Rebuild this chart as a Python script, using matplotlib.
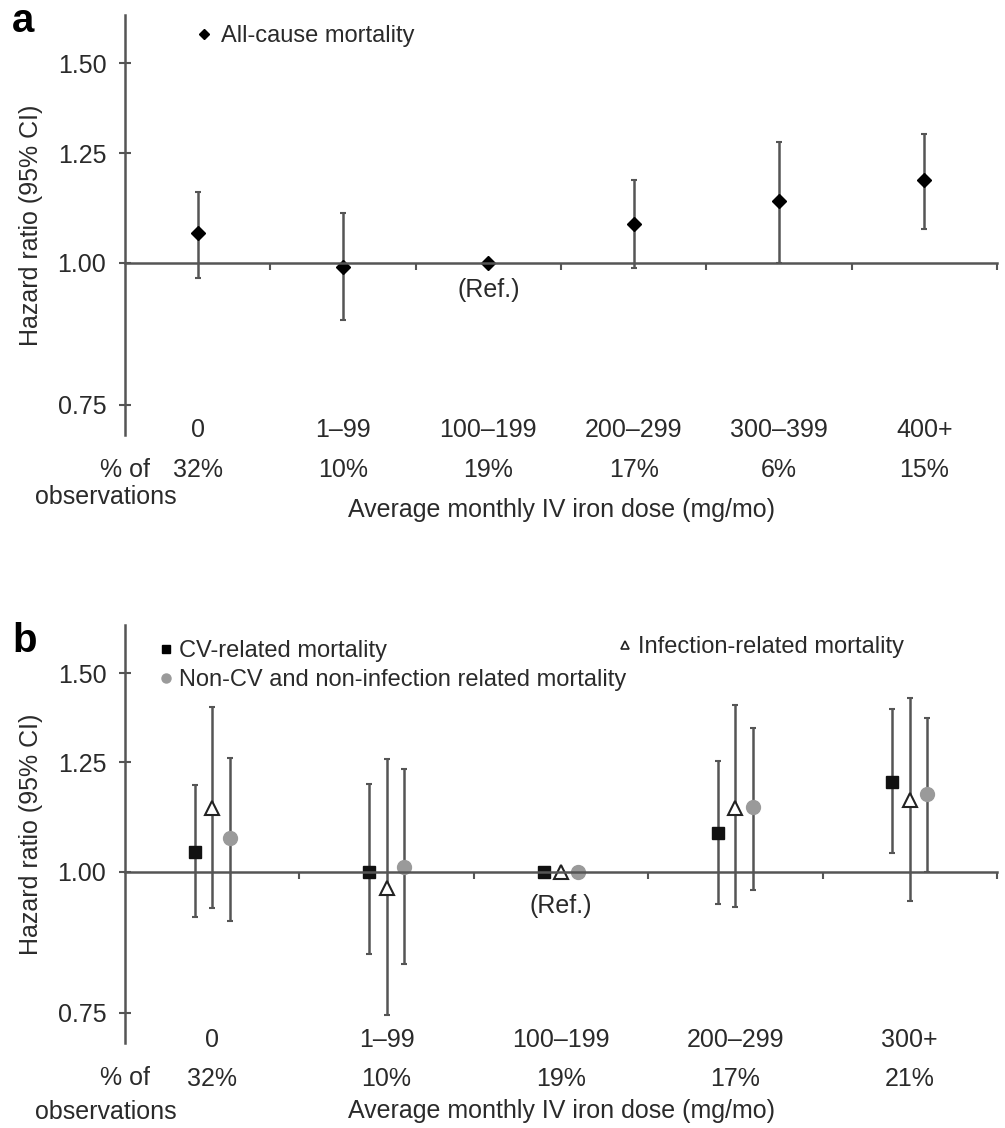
import numpy as np
import matplotlib
matplotlib.use("Agg")
import matplotlib.pyplot as plt
from matplotlib.lines import Line2D
from matplotlib.ticker import FixedLocator, FixedFormatter, NullLocator

plt.rcParams['font.family'] = ['Liberation Sans', 'DejaVu Sans']

# ---- panel a: all-cause mortality ----
doses_a = ["0", "1–99", "100–199", "200–299", "300–399", "400+"]
pct_a = ["32%", "10%", "19%", "17%", "6%", "15%"]
hr_all = [1.063, 0.992, 1.00, 1.082, 1.134, 1.184]
lo_all = [0.970, 0.891, 1.00, 0.990, 1.000, 1.072]
hi_all = [1.155, 1.107, 1.00, 1.184, 1.279, 1.300]

# ---- panel b: cause-specific mortality ----
doses_b = ["0", "1–99", "100–199", "200–299", "300+"]
pct_b = ["32%", "10%", "19%", "17%", "21%"]
hr_cv = [1.041, 1.000, 1.00, 1.082, 1.201]
lo_cv = [0.911, 0.845, 1.00, 0.937, 1.039]
hi_cv = [1.193, 1.196, 1.00, 1.253, 1.393]
hr_inf = [1.139, 0.968, 1.00, 1.139, 1.158]
lo_inf = [0.928, 0.746, 1.00, 0.931, 0.943]
hi_inf = [1.401, 1.258, 1.00, 1.407, 1.427]
hr_oth = [1.072, 1.010, 1.00, 1.141, 1.172]
lo_oth = [0.905, 0.828, 1.00, 0.964, 1.000]
hi_oth = [1.261, 1.233, 1.00, 1.340, 1.370]

W, H = 1005, 1128
AX_COL = "#555555"
TXT_COL = "#2a2a2a"
FS = 18


def px(x, y):
    return x / W, 1 - y / H


def setup_axes(ax, cats, pcts, lab_y, pct_y):
    n = len(cats)
    ax.set_yscale('log')
    ax.set_ylim(0.705, 1.655)
    ax.set_xlim(0, n)
    ax.yaxis.set_major_locator(FixedLocator([0.75, 1.0, 1.25, 1.5]))
    ax.yaxis.set_major_formatter(FixedFormatter(["0.75", "1.00", "1.25", "1.50"]))
    ax.yaxis.set_minor_locator(NullLocator())
    ax.spines[['top', 'right']].set_visible(False)
    ax.spines['bottom'].set_position(('data', 1.0))
    for s in ['left', 'bottom']:
        ax.spines[s].set_color(AX_COL)
        ax.spines[s].set_linewidth(1.8)
    ax.set_xticks(np.arange(1, n + 1))
    ax.set_xticklabels([])
    ax.tick_params(axis='x', direction='out', length=5, width=1.5, color=AX_COL)
    ax.tick_params(axis='y', direction='inout', length=9, width=1.5, color=AX_COL,
                   labelsize=FS, labelcolor=TXT_COL, pad=9)
    tr = ax.get_xaxis_transform()
    for i, (c, p) in enumerate(zip(cats, pcts)):
        ax.text(i + 0.5, lab_y, c, transform=tr, ha='center', va='center',
                fontsize=FS, color=TXT_COL, clip_on=False)
        ax.text(i + 0.5, pct_y, p, transform=tr, ha='center', va='center',
                fontsize=FS, color=TXT_COL, clip_on=False)


def err(hr, lo, hi):
    hr = np.array(hr)
    return [hr - np.array(lo), np.array(hi) - hr]


fig = plt.figure(figsize=(W / 100, H / 100), dpi=100)
ax_a = fig.add_axes([125 / W, 1 - 435 / H, 872 / W, 420 / H])
ax_b = fig.add_axes([125 / W, 1 - 1043 / H, 872 / W, 418 / H])
for ax in (ax_a, ax_b):
    ax.patch.set_alpha(0)

# panel a
setup_axes(ax_a, doses_a, pct_a, 0.012, -0.083)
xa = np.arange(len(doses_a)) + 0.5
ax_a.errorbar(xa, hr_all, yerr=err(hr_all, lo_all, hi_all), fmt='D', ms=7,
              color='black', ecolor=AX_COL, elinewidth=1.8, capsize=2.5, capthick=1.5)
ax_a.text(2.5, 0.946, "(Ref.)", ha='center', va='center', fontsize=FS, color=TXT_COL)
ax_a.legend(handles=[Line2D([], [], ls='none', marker='D', ms=5.5, color='black')],
            labels=["All-cause mortality"], loc='upper left',
            bbox_to_anchor=(0.08, 0.976), frameon=False, borderpad=0, borderaxespad=0,
            handlelength=0.8, handletextpad=0.3, fontsize=17, labelcolor=TXT_COL)

# panel b
setup_axes(ax_b, doses_b, pct_b, 0.007, -0.086)
xb = np.arange(len(doses_b)) + 0.5
off = 0.1
ax_b.errorbar(xb - off, hr_cv, yerr=err(hr_cv, lo_cv, hi_cv), fmt='s', ms=9,
              color='#111111', ecolor=AX_COL, elinewidth=1.8, capsize=2.5, capthick=1.5)
ax_b.errorbar(xb, hr_inf, yerr=err(hr_inf, lo_inf, hi_inf), fmt='^', ms=10,
              mfc='white', mec='#222222', mew=1.5, ecolor=AX_COL, elinewidth=1.8,
              capsize=2.5, capthick=1.5)
ax_b.errorbar(xb + off, hr_oth, yerr=err(hr_oth, lo_oth, hi_oth), fmt='o', ms=10,
              color='#9a9a9a', ecolor=AX_COL, elinewidth=1.8, capsize=2.5, capthick=1.5)
ax_b.text(2.5, 0.933, "(Ref.)", ha='center', va='center', fontsize=FS, color=TXT_COL)

leg1 = ax_b.legend(handles=[Line2D([], [], ls='none', marker='s', ms=6, color='black'),
                            Line2D([], [], ls='none', marker='o', ms=6.5, color='#9a9a9a')],
                   labels=["CV-related mortality", "Non-CV and non-infection related mortality"],
                   loc='upper left', bbox_to_anchor=(0.039, 0.964), frameon=False,
                   borderpad=0, borderaxespad=0, handlelength=0.6, handletextpad=0.25,
                   labelspacing=0.3, fontsize=17, labelcolor=TXT_COL)
ax_b.add_artist(leg1)
ax_b.legend(handles=[Line2D([], [], ls='none', marker='^', ms=6, mfc='white',
                            mec='#222222', mew=1.2)],
            labels=["Infection-related mortality"], loc='upper left',
            bbox_to_anchor=(0.565, 0.973), frameon=False, borderpad=0, borderaxespad=0,
            handlelength=0.6, handletextpad=0.25, fontsize=17, labelcolor=TXT_COL)

# shared text
for (ya, yo, yx, yc) in [(470, 497, 510, 225), (1078, 1112, 1111, 834)]:
    fig.text(*px(150, ya), "% of", ha='right', va='center', fontsize=FS, color=TXT_COL)
    fig.text(*px(106, yo), "observations", ha='center', va='center', fontsize=FS, color=TXT_COL)
    fig.text(*px(562, yx), "Average monthly IV iron dose (mg/mo)", ha='center',
             va='center', fontsize=FS, color=TXT_COL)
    fig.text(*px(31, yc), "Hazard ratio (95% CI)", rotation=90, ha='center',
             va='center', fontsize=FS, color=TXT_COL)

fig.text(*px(12, 32), "a", fontsize=29, fontweight='bold', va='baseline', color='black')
fig.text(*px(12, 652), "b", fontsize=29, fontweight='bold', va='baseline', color='black')

fig.savefig("out.png", dpi=100, facecolor='white')
